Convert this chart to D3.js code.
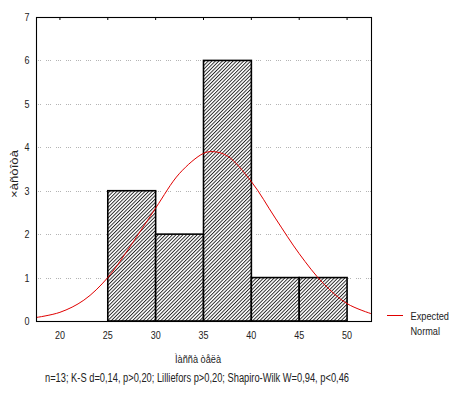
<!DOCTYPE html>
<html>
<head>
<meta charset="utf-8">
<script src="https://cdn.jsdelivr.net/npm/d3@7"></script>
<style>
  body { margin: 0; background: #fff; }
  text { font-family: "Liberation Sans", Arial, sans-serif; fill: #222; }
</style>
</head>
<body>
<main></main>
<script>
// histogram bins (lower edge, upper edge) and counts
const binStart = [20, 25, 30, 35, 40, 45];
const binEnd = [25, 30, 35, 40, 45, 50];
const counts = [0, 3, 2, 6, 1, 1];

// expected normal curve
const curveX = [17.5, 20, 22.5, 25, 27.5, 30, 32.5, 35, 36, 37.5, 40, 42.5, 45, 47.5, 50, 52.5];
const curveY = [0.08, 0.2, 0.48, 1.0, 1.77, 2.6, 3.4, 3.86, 3.9, 3.8, 3.21, 2.37, 1.55, 0.87, 0.4, 0.17];

const xTicks = [20, 25, 30, 35, 40, 45, 50];
const yTicks = [0, 1, 2, 3, 4, 5, 6, 7];
const gridTicks = [1, 2, 3, 4, 5, 6];

const xTitle = "Ìàññà òåëà";
const yTitle = "×àñòîòà";
const legendLabels = ["Expected", "Normal"];
const statsText = "n=13; K-S d=0,14, p>0,20; Lilliefors p>0,20; Shapiro-Wilk W=0,94, p<0,46";

const w = 457;
const h = 394;
const plotLeft = 36;
const plotRight = 371;
const plotTop = 17;
const plotBottom = 321;

const xScale = d3.scaleLinear().domain([17.5, 52.5]).range([plotLeft, plotRight]);
const yScale = d3.scaleLinear().domain([0, 7]).range([plotBottom, plotTop]);

const svg = d3
  .select("main")
  .append("svg")
  .attr("width", w)
  .attr("height", h);

// hatch pattern for the bars
const pattern = svg
  .append("defs")
  .append("pattern")
  .attr("id", "hatch")
  .attr("patternUnits", "userSpaceOnUse")
  .attr("width", 2.5)
  .attr("height", 2.5)
  .attr("patternTransform", "rotate(45)");
pattern
  .append("rect")
  .attr("width", 2.5)
  .attr("height", 2.5)
  .attr("fill", "#fff");
pattern
  .append("line")
  .attr("x1", 0.5)
  .attr("y1", 0)
  .attr("x2", 0.5)
  .attr("y2", 2.5)
  .attr("stroke", "#000")
  .attr("stroke-width", 0.8);

// dotted horizontal grid
svg
  .append("g")
  .selectAll("line")
  .data(gridTicks)
  .enter()
  .append("line")
  .attr("x1", plotLeft)
  .attr("x2", plotRight)
  .attr("y1", d => Math.round(yScale(d)) + 0.5)
  .attr("y2", d => Math.round(yScale(d)) + 0.5)
  .attr("stroke", "#b4b4b4")
  .attr("stroke-dasharray", "1,1,1,1,1,5");

// bars
svg
  .append("g")
  .selectAll("rect")
  .data(counts)
  .enter()
  .append("rect")
  .attr("x", (d, i) => xScale(binStart[i]))
  .attr("y", d => yScale(d))
  .attr("width", (d, i) => xScale(binEnd[i]) - xScale(binStart[i]))
  .attr("height", d => yScale(0) - yScale(d))
  .attr("fill", "url(#hatch)")
  .attr("stroke", "#000")
  .attr("stroke-width", 1.6);

// expected normal curve
const line = d3
  .line()
  .x((d, i) => xScale(curveX[i]))
  .y(d => yScale(d))
  .curve(d3.curveCatmullRom);

svg
  .append("path")
  .datum(curveY)
  .attr("d", line)
  .attr("fill", "none")
  .attr("stroke", "#e00000")
  .attr("stroke-width", 1);

// plot frame
svg
  .append("rect")
  .attr("x", plotLeft + 0.5)
  .attr("y", plotTop + 0.5)
  .attr("width", plotRight - plotLeft)
  .attr("height", plotBottom - plotTop)
  .attr("fill", "none")
  .attr("stroke", "#000")
  .attr("stroke-width", 1.1);

// small inward ticks on the top edge
svg
  .append("g")
  .selectAll("line")
  .data(xTicks)
  .enter()
  .append("line")
  .attr("x1", d => xScale(d))
  .attr("x2", d => xScale(d))
  .attr("y1", plotTop)
  .attr("y2", plotTop + 3)
  .attr("stroke", "#000");

// x tick labels (narrow, like the original)
svg
  .append("g")
  .selectAll("text")
  .data(xTicks)
  .enter()
  .append("text")
  .attr("x", d => xScale(d) - 5)
  .attr("y", 338.5)
  .attr("textLength", 10)
  .attr("lengthAdjust", "spacingAndGlyphs")
  .style("font-size", "11px")
  .text(d => d);

// y tick labels
svg
  .append("g")
  .selectAll("text")
  .data(yTicks)
  .enter()
  .append("text")
  .attr("x", 24.5)
  .attr("y", d => yScale(d))
  .attr("dy", "0.36em")
  .attr("textLength", 5)
  .attr("lengthAdjust", "spacingAndGlyphs")
  .style("font-size", "11px")
  .text(d => d);

// axis titles
svg
  .append("text")
  .attr("transform", "translate(17.5,198) rotate(-90)")
  .attr("textLength", 48)
  .attr("lengthAdjust", "spacingAndGlyphs")
  .style("font-size", "11.5px")
  .text(yTitle);

svg
  .append("text")
  .attr("x", 175)
  .attr("y", 362.5)
  .attr("textLength", 46)
  .attr("lengthAdjust", "spacingAndGlyphs")
  .style("font-size", "11.5px")
  .text(xTitle);

// stats line under the chart
svg
  .append("text")
  .attr("x", 45)
  .attr("y", 382)
  .attr("textLength", 304)
  .attr("lengthAdjust", "spacingAndGlyphs")
  .style("font-size", "12px")
  .text(statsText);

// legend
svg
  .append("line")
  .attr("x1", 387)
  .attr("x2", 403)
  .attr("y1", 315.5)
  .attr("y2", 315.5)
  .attr("stroke", "#e00000");

svg
  .append("g")
  .selectAll("text")
  .data(legendLabels)
  .enter()
  .append("text")
  .attr("x", 410.5)
  .attr("y", (d, i) => 319.5 + i * 15.5)
  .attr("textLength", (d, i) => [38.5, 29.5][i])
  .attr("lengthAdjust", "spacingAndGlyphs")
  .style("font-size", "10.5px")
  .text(d => d);
</script>
</body>
</html>
